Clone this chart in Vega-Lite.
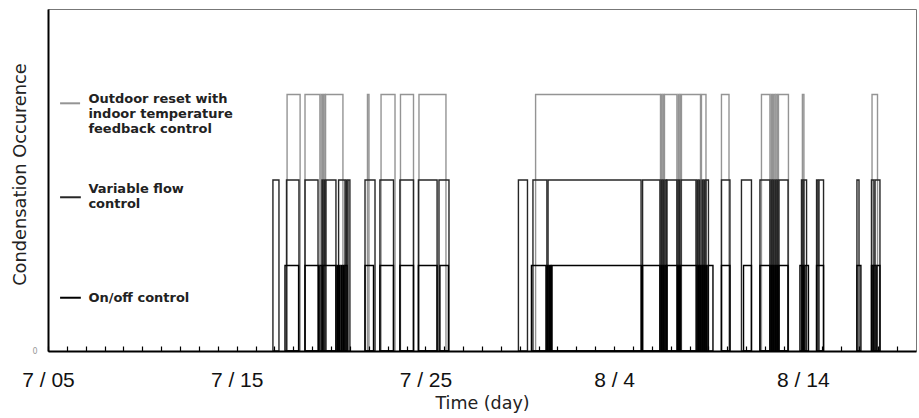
{
  "$schema": "https://vega.github.io/schema/vega-lite/v6.json",
  "width": 868,
  "height": 342,
  "autosize": {"type": "none"},
  "padding": {"left": 48, "top": 9, "right": 3, "bottom": 67},
  "background": "white",
  "config": {"view": {"stroke": "#777777", "strokeWidth": 1}, "font": "DejaVu Sans"},
  "datasets": {
    "pulses": [
      {"series": "Outdoor reset", "start": 12.67, "end": 13.36, "level": 3},
      {"series": "Outdoor reset", "start": 13.62, "end": 14.41, "level": 3},
      {"series": "Outdoor reset", "start": 14.47, "end": 14.55, "level": 3},
      {"series": "Outdoor reset", "start": 14.60, "end": 14.68, "level": 3},
      {"series": "Outdoor reset", "start": 14.71, "end": 15.63, "level": 3},
      {"series": "Outdoor reset", "start": 16.93, "end": 17.01, "level": 3},
      {"series": "Outdoor reset", "start": 17.65, "end": 18.39, "level": 3},
      {"series": "Outdoor reset", "start": 18.68, "end": 19.37, "level": 3},
      {"series": "Outdoor reset", "start": 19.66, "end": 21.09, "level": 3},
      {"series": "Outdoor reset", "start": 25.84, "end": 32.46, "level": 3},
      {"series": "Outdoor reset", "start": 32.49, "end": 32.54, "level": 3},
      {"series": "Outdoor reset", "start": 32.59, "end": 32.64, "level": 3},
      {"series": "Outdoor reset", "start": 32.67, "end": 33.33, "level": 3},
      {"series": "Outdoor reset", "start": 33.39, "end": 33.44, "level": 3},
      {"series": "Outdoor reset", "start": 33.49, "end": 33.52, "level": 3},
      {"series": "Outdoor reset", "start": 33.57, "end": 34.58, "level": 3},
      {"series": "Outdoor reset", "start": 34.63, "end": 34.87, "level": 3},
      {"series": "Outdoor reset", "start": 35.69, "end": 36.09, "level": 3},
      {"series": "Outdoor reset", "start": 37.81, "end": 38.26, "level": 3},
      {"series": "Outdoor reset", "start": 38.32, "end": 38.39, "level": 3},
      {"series": "Outdoor reset", "start": 38.45, "end": 38.53, "level": 3},
      {"series": "Outdoor reset", "start": 38.58, "end": 38.66, "level": 3},
      {"series": "Outdoor reset", "start": 38.71, "end": 39.24, "level": 3},
      {"series": "Outdoor reset", "start": 39.98, "end": 40.06, "level": 3},
      {"series": "Outdoor reset", "start": 43.67, "end": 43.96, "level": 3},

      {"series": "Variable flow", "start": 11.92, "end": 12.24, "level": 2},
      {"series": "Variable flow", "start": 12.64, "end": 13.30, "level": 2},
      {"series": "Variable flow", "start": 13.62, "end": 14.31, "level": 2},
      {"series": "Variable flow", "start": 14.52, "end": 14.57, "level": 2},
      {"series": "Variable flow", "start": 14.63, "end": 14.68, "level": 2},
      {"series": "Variable flow", "start": 14.73, "end": 15.26, "level": 2},
      {"series": "Variable flow", "start": 15.40, "end": 15.74, "level": 2},
      {"series": "Variable flow", "start": 15.79, "end": 15.85, "level": 2},
      {"series": "Variable flow", "start": 15.90, "end": 16.00, "level": 2},
      {"series": "Variable flow", "start": 16.80, "end": 17.33, "level": 2},
      {"series": "Variable flow", "start": 17.59, "end": 18.31, "level": 2},
      {"series": "Variable flow", "start": 18.65, "end": 19.37, "level": 2},
      {"series": "Variable flow", "start": 19.63, "end": 20.62, "level": 2},
      {"series": "Variable flow", "start": 20.72, "end": 21.25, "level": 2},
      {"series": "Variable flow", "start": 24.93, "end": 25.41, "level": 2},
      {"series": "Variable flow", "start": 25.70, "end": 26.44, "level": 2},
      {"series": "Variable flow", "start": 26.50, "end": 31.43, "level": 2},
      {"series": "Variable flow", "start": 31.51, "end": 32.43, "level": 2},
      {"series": "Variable flow", "start": 32.49, "end": 32.54, "level": 2},
      {"series": "Variable flow", "start": 32.59, "end": 32.64, "level": 2},
      {"series": "Variable flow", "start": 32.70, "end": 32.78, "level": 2},
      {"series": "Variable flow", "start": 32.80, "end": 33.33, "level": 2},
      {"series": "Variable flow", "start": 33.39, "end": 33.47, "level": 2},
      {"series": "Variable flow", "start": 33.55, "end": 34.34, "level": 2},
      {"series": "Variable flow", "start": 34.39, "end": 34.45, "level": 2},
      {"series": "Variable flow", "start": 34.50, "end": 34.55, "level": 2},
      {"series": "Variable flow", "start": 34.66, "end": 34.71, "level": 2},
      {"series": "Variable flow", "start": 34.76, "end": 34.82, "level": 2},
      {"series": "Variable flow", "start": 34.87, "end": 35.00, "level": 2},
      {"series": "Variable flow", "start": 35.69, "end": 36.14, "level": 2},
      {"series": "Variable flow", "start": 36.75, "end": 37.28, "level": 2},
      {"series": "Variable flow", "start": 37.73, "end": 38.26, "level": 2},
      {"series": "Variable flow", "start": 38.32, "end": 38.37, "level": 2},
      {"series": "Variable flow", "start": 38.42, "end": 38.47, "level": 2},
      {"series": "Variable flow", "start": 38.53, "end": 38.58, "level": 2},
      {"series": "Variable flow", "start": 38.63, "end": 38.69, "level": 2},
      {"series": "Variable flow", "start": 38.74, "end": 39.22, "level": 2},
      {"series": "Variable flow", "start": 39.93, "end": 40.01, "level": 2},
      {"series": "Variable flow", "start": 40.06, "end": 40.20, "level": 2},
      {"series": "Variable flow", "start": 40.73, "end": 40.81, "level": 2},
      {"series": "Variable flow", "start": 40.86, "end": 41.10, "level": 2},
      {"series": "Variable flow", "start": 42.87, "end": 42.98, "level": 2},
      {"series": "Variable flow", "start": 43.64, "end": 43.77, "level": 2},
      {"series": "Variable flow", "start": 43.83, "end": 44.09, "level": 2},

      {"series": "On/off", "start": 12.56, "end": 13.28, "level": 1},
      {"series": "On/off", "start": 13.62, "end": 14.34, "level": 1},
      {"series": "On/off", "start": 14.41, "end": 14.52, "level": 1},
      {"series": "On/off", "start": 14.57, "end": 15.26, "level": 1},
      {"series": "On/off", "start": 15.32, "end": 15.37, "level": 1},
      {"series": "On/off", "start": 15.42, "end": 15.47, "level": 1},
      {"series": "On/off", "start": 15.53, "end": 15.58, "level": 1},
      {"series": "On/off", "start": 15.63, "end": 15.69, "level": 1},
      {"series": "On/off", "start": 15.74, "end": 15.85, "level": 1},
      {"series": "On/off", "start": 16.80, "end": 17.25, "level": 1},
      {"series": "On/off", "start": 17.59, "end": 18.31, "level": 1},
      {"series": "On/off", "start": 18.65, "end": 19.37, "level": 1},
      {"series": "On/off", "start": 19.63, "end": 20.62, "level": 1},
      {"series": "On/off", "start": 20.77, "end": 21.22, "level": 1},
      {"series": "On/off", "start": 25.62, "end": 26.39, "level": 1},
      {"series": "On/off", "start": 26.44, "end": 26.50, "level": 1},
      {"series": "On/off", "start": 26.55, "end": 26.60, "level": 1},
      {"series": "On/off", "start": 26.63, "end": 26.68, "level": 1},
      {"series": "On/off", "start": 26.71, "end": 31.45, "level": 1},
      {"series": "On/off", "start": 31.51, "end": 32.43, "level": 1},
      {"series": "On/off", "start": 32.49, "end": 32.54, "level": 1},
      {"series": "On/off", "start": 32.59, "end": 32.64, "level": 1},
      {"series": "On/off", "start": 32.70, "end": 32.78, "level": 1},
      {"series": "On/off", "start": 32.80, "end": 33.36, "level": 1},
      {"series": "On/off", "start": 33.41, "end": 33.47, "level": 1},
      {"series": "On/off", "start": 33.52, "end": 34.39, "level": 1},
      {"series": "On/off", "start": 34.45, "end": 34.50, "level": 1},
      {"series": "On/off", "start": 34.55, "end": 34.61, "level": 1},
      {"series": "On/off", "start": 34.66, "end": 34.71, "level": 1},
      {"series": "On/off", "start": 34.76, "end": 34.82, "level": 1},
      {"series": "On/off", "start": 34.87, "end": 34.92, "level": 1},
      {"series": "On/off", "start": 34.98, "end": 35.24, "level": 1},
      {"series": "On/off", "start": 35.69, "end": 36.14, "level": 1},
      {"series": "On/off", "start": 36.86, "end": 37.28, "level": 1},
      {"series": "On/off", "start": 37.73, "end": 38.26, "level": 1},
      {"series": "On/off", "start": 38.32, "end": 38.37, "level": 1},
      {"series": "On/off", "start": 38.42, "end": 38.47, "level": 1},
      {"series": "On/off", "start": 38.53, "end": 38.58, "level": 1},
      {"series": "On/off", "start": 38.63, "end": 38.69, "level": 1},
      {"series": "On/off", "start": 38.74, "end": 39.22, "level": 1},
      {"series": "On/off", "start": 39.85, "end": 39.96, "level": 1},
      {"series": "On/off", "start": 40.01, "end": 40.06, "level": 1},
      {"series": "On/off", "start": 40.12, "end": 40.30, "level": 1},
      {"series": "On/off", "start": 40.73, "end": 41.10, "level": 1},
      {"series": "On/off", "start": 42.87, "end": 43.08, "level": 1},
      {"series": "On/off", "start": 43.64, "end": 43.72, "level": 1},
      {"series": "On/off", "start": 43.77, "end": 43.88, "level": 1},
      {"series": "On/off", "start": 43.93, "end": 44.09, "level": 1}
    ],
    "legendSymbols": [
      {"series": "Outdoor reset", "x1": 0.64, "x2": 1.70, "y": 2.897},
      {"series": "Variable flow", "x1": 0.64, "x2": 1.74, "y": 1.798},
      {"series": "On/off", "x1": 0.64, "x2": 1.74, "y": 0.623}
    ],
    "legendText": [
      {"label": "Outdoor reset with", "x": 2.14, "y": 2.95},
      {"label": "indoor temperature", "x": 2.14, "y": 2.772},
      {"label": "feedback control", "x": 2.14, "y": 2.597},
      {"label": "Variable flow", "x": 2.14, "y": 1.898},
      {"label": "control", "x": 2.14, "y": 1.718},
      {"label": "On/off control", "x": 2.14, "y": 0.623}
    ]
  },
  "layer": [
    {
      "data": {"name": "pulses"},
      "mark": {"type": "rect", "filled": false, "strokeWidth": 1.4},
      "encoding": {
        "x": {
          "field": "start",
          "type": "quantitative",
          "title": "Time (day)",
          "scale": {"domain": [0, 46], "nice": false, "zero": false},
          "axis": {
            "values": [0,1,2,3,4,5,6,7,8,9,10,11,12,13,14,15,16,17,18,19,20,21,22,23,24,25,26,27,28,29,30,31,32,33,34,35,36,37,38,39,40,41,42,43,44,45],
            "tickCount": 60,
            "labelExpr": "datum.value == 0 ? '7 / 05' : datum.value == 10 ? '7 / 15' : datum.value == 20 ? '7 / 25' : datum.value == 30 ? '8 / 4' : datum.value == 40 ? '8 / 14' : ''",
            "tickSize": -5,
            "tickColor": "#000000",
            "tickWidth": 1.2,
            "domainColor": "#000000",
            "domainWidth": 2,
            "grid": false,
            "labelFont": "Liberation Sans",
            "labelFontSize": 21,
            "labelColor": "#111111",
            "labelPadding": 23,
            "labelOverlap": false,
            "labelFlush": false,
            "labelBound": false,
            "labelDx": 3,
            "titleFont": "DejaVu Sans",
            "titleFontSize": 17.5,
            "titleFontWeight": "normal",
            "titleColor": "#222222",
            "titlePadding": 4,
            "zindex": 1
          }
        },
        "x2": {"field": "end"},
        "y": {
          "field": "level",
          "type": "quantitative",
          "title": "Condensation Occurence",
          "scale": {"domain": [0, 4], "nice": false},
          "axis": {
            "values": [0],
            "format": "d",
            "ticks": false,
            "grid": false,
            "domainColor": "#000000",
            "domainWidth": 2,
            "labelFontSize": 8,
            "labelColor": "#999999",
            "labelPadding": 11,
            "titleFont": "DejaVu Sans",
            "titleFontSize": 17.8,
            "titleFontWeight": "normal",
            "titleColor": "#222222",
            "titleX": -28,
            "titleY": 165,
            "titleAngle": 270,
            "titleBaseline": "middle",
            "titleAlign": "center",
            "zindex": 1
          }
        },
        "y2": {"datum": 0},
        "color": {
          "field": "series",
          "type": "nominal",
          "scale": {"domain": ["Outdoor reset", "Variable flow", "On/off"], "range": ["#949494", "#262626", "#000000"]},
          "legend": null
        }
      }
    },
    {
      "data": {"name": "legendSymbols"},
      "mark": {"type": "rule", "strokeWidth": 2},
      "encoding": {
        "x": {"field": "x1", "type": "quantitative", "title": "Time (day)"},
        "x2": {"field": "x2"},
        "y": {"field": "y", "type": "quantitative", "title": "Condensation Occurence"},
        "color": {"field": "series", "type": "nominal", "legend": null}
      }
    },
    {
      "data": {"name": "legendText"},
      "mark": {"type": "text", "align": "left", "baseline": "middle", "font": "DejaVu Sans", "fontWeight": "bold", "fontSize": 13, "color": "#222222"},
      "encoding": {
        "x": {"field": "x", "type": "quantitative", "title": "Time (day)"},
        "y": {"field": "y", "type": "quantitative", "title": "Condensation Occurence"},
        "text": {"field": "label"}
      }
    }
  ]
}
